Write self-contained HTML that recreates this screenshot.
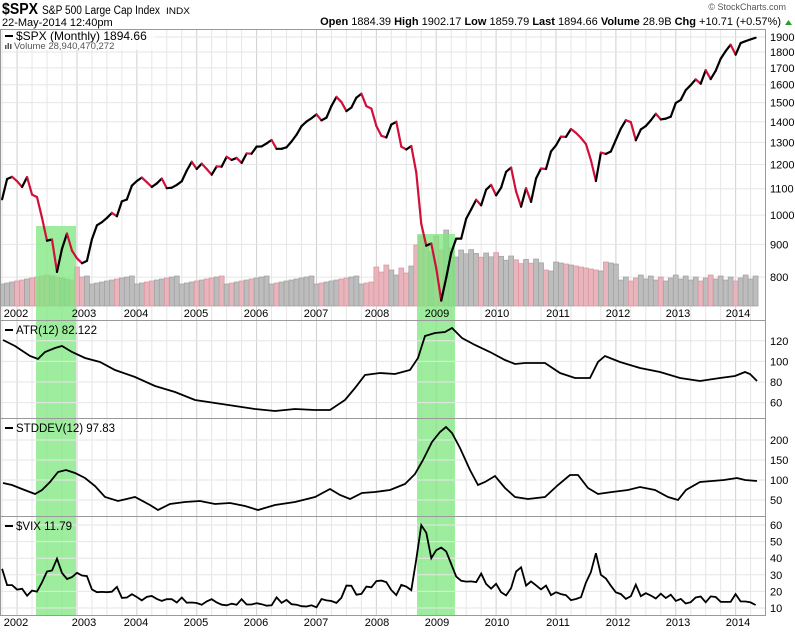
<!DOCTYPE html>
<html><head><meta charset="utf-8"><style>
body{margin:0;background:#fff;width:795px;height:630px;overflow:hidden;font-family:"Liberation Sans",Arial,sans-serif;}
svg text{font-family:"Liberation Sans",Arial,sans-serif;}
</style></head><body>
<svg id="c" width="795" height="630" xmlns="http://www.w3.org/2000/svg">
<text x="2" y="14" font-size="15.5" font-weight="bold" fill="#000" textLength="36" lengthAdjust="spacingAndGlyphs">$SPX</text>
<text x="42" y="14" font-size="11.5" fill="#000" textLength="118" lengthAdjust="spacingAndGlyphs">S&amp;P 500 Large Cap Index</text>
<text x="166" y="14" font-size="9.5" fill="#000" textLength="24" lengthAdjust="spacingAndGlyphs">INDX</text>
<text x="2" y="26" font-size="11" fill="#000">22-May-2014 12:40pm</text>
<text x="786" y="10" font-size="9" fill="#555" text-anchor="end">© StockCharts.com</text>
<text x="781" y="25" font-size="11" fill="#000" text-anchor="end"><tspan font-weight="bold">Open</tspan> 1884.39 <tspan font-weight="bold">High</tspan> 1902.17 <tspan font-weight="bold">Low</tspan> 1859.79 <tspan font-weight="bold">Last</tspan> 1894.66 <tspan font-weight="bold">Volume</tspan> 28.9B <tspan font-weight="bold">Chg</tspan> +10.71 (+0.57%)</text>
<polygon points="785,25 792,25 788.5,20" fill="#2a9d2a"/>
<g id="g"></g>
</svg>
<script>
var NS="http://www.w3.org/2000/svg",G=document.getElementById('g');
function el(t,a,txt){var e=document.createElementNS(NS,t);for(var k in a)e.setAttribute(k,a[k]);if(txt!=null)e.textContent=txt;G.appendChild(e);return e;}
function X(m){return 57+(m-8)*4.99;}
var L=0,R=765;
var panels=[[29,320],[320,418],[418,516],[516,615]];
for(var m=-3;m<=150;m+=3){var x=X(m);if(x<L||x>R)continue;var yr=(m%12==0);
 panels.forEach(function(p){el('line',{x1:x,x2:x,y1:p[0],y2:p[1],stroke:yr?'#cfcfcf':'#e6e6e6','stroke-width':1});});}
var P=[1059,1139,1148,
1130,1107,1147,1077,1067,990,912,916,815,886,936,880,
856,841,848,917,964,975,990,1008,996,1051,1058,1112,
1131,1145,1126,1107,1121,1141,1102,1104,1115,1130,1174,1212,
1181,1204,1181,1157,1192,1191,1234,1220,1229,1207,1249,1248,
1280,1281,1295,1311,1270,1270,1277,1304,1336,1378,1401,1418,
1438,1407,1421,1482,1531,1503,1455,1474,1527,1549,1481,1468,
1379,1331,1323,1386,1400,1280,1267,1283,1166,969,896,903,
826,735,798,873,919,919,987,1021,1057,1036,1096,1115,
1074,1104,1169,1187,1089,1031,1102,1049,1141,1183,1181,1258,
1286,1327,1326,1364,1345,1321,1292,1219,1131,1253,1247,1258,
1312,1366,1408,1398,1310,1362,1379,1407,1441,1412,1416,1426,
1498,1515,1569,1598,1631,1606,1686,1633,1682,1757,1806,1848,
1783,1859,1872,1884,1895];
function PY(p){return 37+(3.2788-Math.log10(p))*639;}
[1900,1800,1700,1600,1500,1400,1300,1200,1100,1000,900,800].forEach(function(v){var y=PY(v);
 el('line',{x1:L,x2:R,y1:y,y2:y,stroke:'#e6e6e6'});el('text',{x:770,y:y+4,'font-size':11,fill:'#000'},v);});
var V=[];for(var i=0;i<P.length;i++){var m=i-3,h=22+((i*37)%9);
 if(m>=6&&m<=12)h=26+((i*13)%14);
 if(m>=72)h=30+((i*7)%12);
 if(m>=80&&m<=88)h=48+((i*11)%20);
 if(m==81||m==84)h=70; if(m==86)h=76;
 if(m>=89&&m<=105)h=52-((m-89)*0.8)+((i*5)%8);
 if(m>=106&&m<=120)h=35+((i*9)%10);
 if(m>=121)h=25+((i*3)%7);
 V.push(h);}
for(var i=0;i<P.length;i++){var dn=i>0&&P[i]<P[i-1];var x=X(i-3);
 el('rect',{x:x-2.5,y:306-V[i],width:4.99,height:V[i],fill:dn?'#e9b4bb':'#bdbdbd',stroke:dn?'#d895a0':'#a0a0a0','stroke-width':0.7});}
el('rect',{x:36,y:226,width:40,height:389,fill:'#7ee77e','fill-opacity':0.75});
el('rect',{x:417,y:234,width:38,height:381,fill:'#7ee77e','fill-opacity':0.75});
for(var i=1;i<P.length;i++){el('line',{x1:X(i-4),y1:PY(P[i-1]),x2:X(i-3),y2:PY(P[i]),stroke:P[i]<P[i-1]?'#d0103a':'#000','stroke-width':2.2,'stroke-linecap':'round'});}
[[16,2002],[84,2003],[136,2004],[196,2005],[256,2006],[316,2007],[377,2008],[437,2009],[497,2010],[558,2011],[618,2012],[678,2013],[738,2014]].forEach(function(a){
 el('text',{x:a[0],y:317,'font-size':11,'text-anchor':'middle'},a[1]);el('text',{x:a[0],y:626,'font-size':11,'text-anchor':'middle'},a[1]);});
function hl(vals,f){vals.forEach(function(v){var y=f(v);el('line',{x1:L,x2:R,y1:y,y2:y,stroke:'#e6e6e6'});el('text',{x:770,y:y+4,'font-size':11},v);});}
function AY(v){return 382-(v-80)*1.03;}
hl([120,100,80,60],AY);
var atr=[[3,340],[15,346],[30,356],[38,359],[45,352],[55,348],[62,346],[72,352],[85,358],[100,362],[115,370],[135,377],[155,386],[175,392],[195,400],[215,403],[235,406],[255,409],[275,411],[295,409],[315,410],[330,410],[345,400],[355,388],[365,375],[380,373],[395,374],[410,370],[418,358],[425,336],[435,333],[445,332],[452,328],[462,338],[475,345],[490,352],[505,360],[515,364],[525,363],[545,363],[560,373],[575,378],[590,378],[598,362],[605,356],[620,362],[640,368],[660,372],[680,378],[700,381],[720,378],[735,376],[745,372],[750,374],[757,381]];
el('polyline',{points:atr.join(' '),fill:'none',stroke:'#000','stroke-width':1.8});
function SY(v){return 480-(v-100)*0.4;}
hl([200,150,100,50],SY);
var sd=[[3,483],[12,485],[22,489],[35,494],[42,490],[50,482],[58,472],[66,470],[75,473],[85,478],[95,486],[105,497],[118,501],[135,497],[150,505],[158,510],[170,504],[185,502],[200,501],[215,504],[230,503],[245,506],[258,510],[275,505],[295,502],[315,497],[330,489],[340,495],[350,499],[362,493],[375,492],[390,490],[405,484],[415,474],[423,460],[432,442],[440,432],[446,427],[452,433],[460,448],[470,470],[478,485],[485,482],[495,476],[505,488],[515,497],[528,499],[545,497],[558,485],[570,475],[578,475],[588,488],[598,494],[612,492],[628,490],[640,487],[655,490],[668,497],[678,500],[686,490],[700,482],[712,481],[724,480],[737,478],[745,480],[757,481]];
el('polyline',{points:sd.join(' '),fill:'none',stroke:'#000','stroke-width':1.8});
function VY(v){return 608-(v-10)*1.66;}
hl([60,50,40,30,20,10],VY);
var vix=[33.6,23.8,23.8,21.1,21.6,17.4,20.5,19.9,25.4,32,32.6,39.7,31.1,27.5,28.6,31.2,29.6,29.2,21.2,19.5,19.7,19.5,19.8,22.7,16.1,16.3,18.3,16.6,14.6,16.7,17.2,15.5,14.3,15.3,15.3,13.3,16.3,13.2,13.3,13,12,14,15.3,13.3,12,11.6,12.6,11.9,15.3,12.1,12.1,12.9,12.3,11.4,11.6,16.4,13.1,14.9,12.3,12,11.1,10.9,11.6,10.4,15.4,14.6,14.2,13.05,16.2,23.5,23.4,18,18.5,22.9,22.5,26.2,26.5,25.6,20.8,17.8,23.9,22.9,20.7,39.4,59.9,55.3,40,44.8,46.4,44.1,36.5,28.9,26.4,25.9,26,25.6,30.7,24.5,21.7,24.6,19.5,17.6,22,32,34.5,23.5,26,23.7,21.2,23.5,17.8,19.5,18.35,17.7,14.75,15.45,16.5,25.25,31.6,43,30,27.8,23.4,19.4,18.4,15.5,17.15,24.06,17.08,18.9,17.5,15.7,18.6,16,18,14.3,15.5,12.7,13.5,16.3,16.9,13.45,17,16.6,13.75,13.7,13.7,18.4,14,13.9,13.4,11.8];
el('polyline',{points:vix.map(function(v,i){return X(i-3).toFixed(1)+','+VY(v).toFixed(1);}).join(' '),fill:'none',stroke:'#000','stroke-width':1.8});
panels.forEach(function(p){el('rect',{x:0.5,y:p[0]+0.5,width:R,height:p[1]-p[0],fill:'none',stroke:'#999'});});
function leg(y,t,sz){el('line',{x1:5,x2:13,y1:y-4,y2:y-4,stroke:'#000','stroke-width':2});el('text',{x:16,y:y,'font-size':sz||11.5},t);}
el('rect',{x:3,y:30,width:152,height:20,fill:'#fff','fill-opacity':0.8});
leg(40,'$SPX (Monthly) 1894.66',12);
el('rect',{x:5,y:45,width:1.5,height:4,fill:'#555'});el('rect',{x:7.5,y:43,width:1.5,height:6,fill:'#555'});el('rect',{x:10,y:44,width:1.5,height:5,fill:'#555'});
el('text',{x:14,y:49,'font-size':9.5,fill:'#555'},'Volume 28,940,470,272');
leg(334,'ATR(12) 82.122');
leg(432,'STDDEV(12) 97.83');
leg(530,'$VIX 11.79');
</script>
</body></html>
